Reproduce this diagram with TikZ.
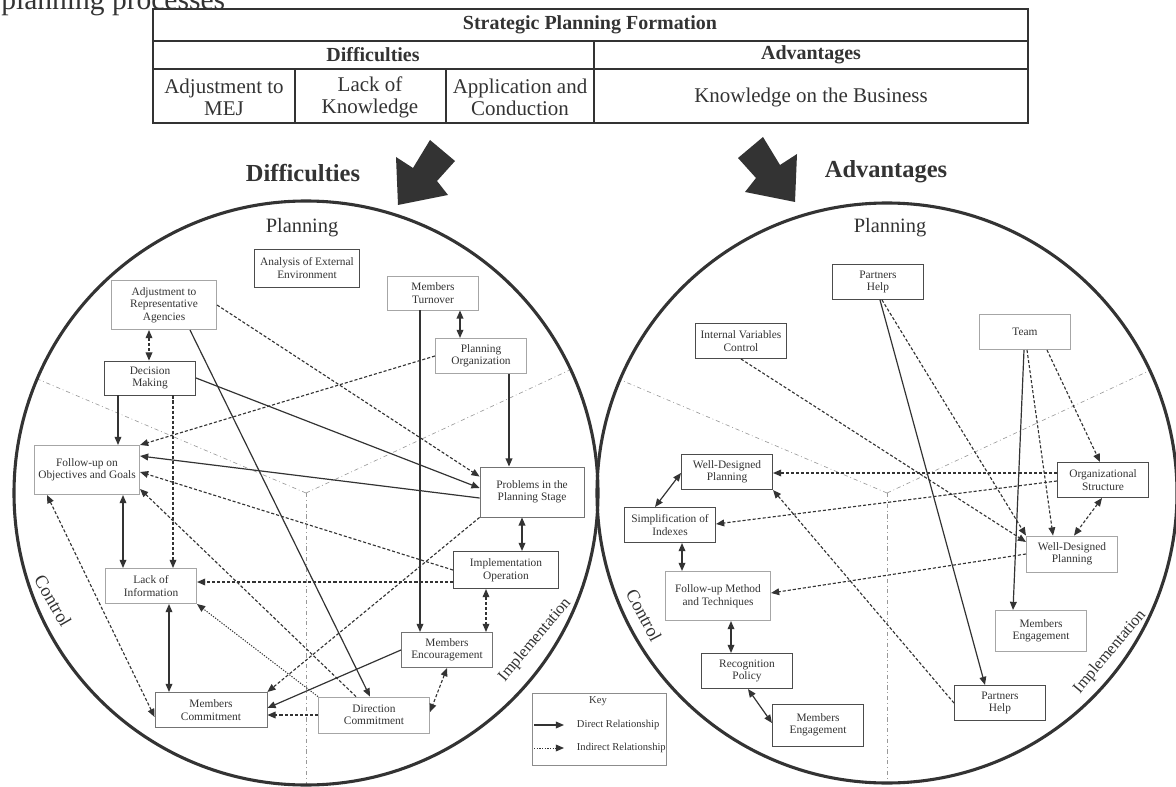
\documentclass[tikz,border=0pt]{standalone}
\usepackage{fontspec}
\setmainfont{Liberation Serif}
\usetikzlibrary{arrows.meta, calc}
\definecolor{ink}{HTML}{333333}

\begin{document}
\begin{tikzpicture}[
            x = 0.025cm, y = -0.025cm, % one unit = one pixel, y runs down
            > = {Triangle[length=5.8pt, width=4.8pt]}, % arrow head style
            direct/.style = {color = ink, line width = 0.85pt},
            indirect/.style = {color = ink, line width = 0.8pt, dash pattern = on 2.2pt off 1.4pt},
            faint/.style = {color = ink, line width = 0.7pt, dash pattern = on 0.9pt off 1pt},
            spoke/.style = {draw = black!40, line width = 0.45pt, dash pattern = on 3pt off 2pt on 0.6pt off 2pt},
            lab/.style = {text = ink, font = \fontsize{14.5}{16}\selectfont},
            side/.style = {text = ink, font = \fontsize{13}{15}\selectfont},
            head/.style = {text = ink, font = \fontsize{17.4}{20}\selectfont\bfseries},
            tcell/.style = {text = ink, align = center, font = \fontsize{14.9}{15.6}\selectfont},
            tbold/.style = {text = ink, font = \fontsize{14.2}{16}\selectfont\bfseries},
            keytext/.style = {text = ink, font = \fontsize{7.5}{9}\selectfont}
        ]

        \tikzstyle{box}=[
            draw = black!70,
            fill = white,
            line width = 0.6pt,
            align = center,
            inner sep = 1pt,
            text = ink,
            minimum width = 2.28cm,
            minimum height = 0.88cm,
            font = \fontsize{8.1}{8.9}\selectfont
        ]
        \tikzstyle{pbox}=[box, draw = black!35]

        \useasboundingbox (0,0) rectangle (1176,787);

        % caption line cut by the page
        \node[anchor = base west, inner sep = 0pt, text = ink, font = \fontsize{21}{24}\selectfont] (cap) at (1,10) {planning processes};

        % table
        \draw[ink, line width = 1.8pt] (153,9) rectangle (1028,123);
        \draw[ink, line width = 1pt] (153,41) -- (1028,41);
        \draw[ink, line width = 1pt] (153,69) -- (1028,69);
        \draw[ink, line width = 1pt] (594,41) -- (594,123);
        \draw[ink, line width = 1pt] (295,69) -- (295,123);
        \draw[ink, line width = 1pt] (446,69) -- (446,123);
        \node[tbold] (tt) at (590,25) {Strategic Planning Formation};
        \node[tbold] (td) at (373,55) {Difficulties};
        \node[tbold] (ta) at (811,55) {Advantages};
        \node[tcell] (c1) at (224,97) {Adjustment to\\MEJ};
        \node[tcell] (c2) at (370,97) {Lack of\\Knowledge};
        \node[tcell] (c3) at (520,97) {Application and\\Conduction};
        \node[tcell] (c4) at (811,97) {Knowledge on the Business};

        % big arrows and headings
        \fill[ink] (398,205) -- (396,157) -- (413,168) -- (430,140) -- (455,161) -- (437,181) -- (448,195) -- cycle;
        \fill[ink] (795,202) -- (797,154) -- (780,165) -- (763,137) -- (738,158) -- (756,178) -- (745,192) -- cycle;
        \node[head] (hd) at (303,173) {Difficulties};
        \node[head] (ha) at (886,172) {Advantages};

        % circles and their three sectors
        \coordinate (lc) at (306,493);
        \coordinate (rc) at (887,493);
        \draw[spoke] (lc) -- ++(-157:292);
        \draw[spoke] (lc) -- ++(-25:290);
        \draw[spoke] (lc) -- ++(90:292);
        \draw[spoke] (rc) -- ++(-157:290);
        \draw[spoke] (rc) -- ++(-25:290);
        \draw[spoke] (rc) -- ++(90:290);
        \draw[ink, line width = 2.2pt] (lc) circle[radius = 292];
        \draw[ink, line width = 2.2pt] (rc) circle[radius = 290];

        \node[lab] (pl1) at (302,228) {Planning};
        \node[lab] (pl2) at (890,228) {Planning};
        \node[side, rotate = -60] (co1) at (53,601) {Control};
        \node[side, rotate = -62] (co2) at (644,615) {Control};
        \node[side, rotate = 50, font = \fontsize{11.6}{13}\selectfont] (im1) at (535,640) {Implementation};
        \node[side, rotate = 50, font = \fontsize{11.6}{13}\selectfont] (im2) at (1110,652) {Implementation};

        % difficulties
        \node[box, minimum width = 2.63cm, minimum height = 0.95cm] (ana) at (307,268) {Analysis of External\\Environment};
        \node[pbox, minimum width = 2.63cm, minimum height = 1.23cm] (adj) at (164,305) {Adjustment to\\Representative\\Agencies};
        \node[box, minimum height = 0.85cm] (dec) at (150,378) {Decision\\Making};
        \node[pbox, minimum width = 2.63cm, minimum height = 1.23cm] (fol) at (87,470) {Follow-up on\\Objectives and Goals};
        \node[pbox, minimum height = 0.85cm] (tur) at (433,293) {Members\\Turnover};
        \node[pbox] (porg) at (481,356) {Planning\\Organization};
        \node[box, draw = black!55, minimum width = 2.6cm, minimum height = 1.25cm] (prob) at (532,492) {Problems in the\\Planning Stage};
        \node[box, minimum width = 2.63cm, minimum height = 0.93cm] (impl) at (506,570) {Implementation\\Operation};
        \node[box, draw = black!55] (enc) at (447,650) {Members\\Encouragement};
        \node[pbox, minimum width = 2.78cm, minimum height = 0.9cm] (dir) at (374,715) {Direction\\Commitment};
        \node[box, draw = black!55, minimum width = 2.8cm] (com) at (211,710) {Members\\Commitment};
        \node[pbox] (lack) at (151,586) {Lack of\\Information};

        \path[indirect, <->] ($(adj.south)+(-15,0)$) edge ($(dec.north)+(-1,0)$);
        \path[indirect, ->] (adj.east) edge ($(prob.north west)+(0,10)$);
        \path[direct, ->] ($(adj.south)+(26,0)$) edge ($(dir.north)+(-4,0)$);
        \path[direct, ->] ($(dec.south)+(-32,0)$) edge ($(fol.north)+(31,0)$);
        \path[indirect, ->] ($(dec.south)+(23,0)$) edge ($(lack.north)+(22,0)$);
        \path[direct, ->] (dec.east) edge ($(prob.west)+(0,-4)$);
        \path[indirect, ->] (porg.west) edge (fol.north east);
        \path[direct, <->] ($(tur.south)+(27,0)$) edge ($(porg.north)+(-21,0)$);
        \path[direct, ->] ($(tur.south)+(-13,0)$) edge ($(enc.north)+(-27,0)$);
        \path[direct, ->] ($(porg.south)+(28,0)$) edge ($(prob.north)+(-23,0)$);
        \path[direct, ->] ($(prob.west)+(0,6)$) edge ($(fol.east)+(0,-14)$);
        \path[direct, <->] ($(prob.south)+(-10,0)$) edge ($(impl.north)+(16,0)$);
        \path[indirect, ->] (prob.south west) edge (com.north east);
        \path[indirect, ->] (impl.west) edge ($(fol.east)+(0,2)$);
        \path[indirect, ->] ($(impl.west)+(0,12)$) edge ($(lack.east)+(0,-4)$);
        \path[indirect, <->] ($(impl.south)+(-20,0)$) edge ($(enc.north)+(39,0)$);
        \path[direct, ->] (enc.west) edge ($(com.east)+(0,-2)$);
        \path[indirect, <->] (enc.south) edge ($(dir.east)+(0,-3)$);
        \path[indirect, ->] (dir.west) edge ($(com.east)+(0,5)$);
        \path[faint, ->] (dir.north west) edge (lack.south east);
        \path[indirect, ->] ($(dir.north)+(-18,0)$) edge ($(fol.east)+(0,19)$);
        \path[direct, <->] ($(fol.south)+(36,0)$) edge ($(lack.north)+(-28,0)$);
        \path[indirect, <->] ($(fol.south)+(-40,0)$) edge ($(com.west)+(0,7)$);
        \path[direct, <->] ($(lack.south)+(18,0)$) edge ($(com.north)+(-42,0)$);

        % key
        \node[draw = black!45, line width = 0.6pt, minimum width = 3.35cm, minimum height = 1.8cm] (key) at (599,729) {};
        \node[keytext] (kt) at (598,701) {Key};
        \node[keytext, anchor = west] (kd) at (572,725) {Direct Relationship};
        \node[keytext, anchor = west] (ki) at (572,748) {Indirect Relationship};
        \coordinate (kd0) at (534,725);
        \coordinate (kd1) at (564,725);
        \coordinate (ki0) at (534,748);
        \coordinate (ki1) at (564,748);
        \path[direct, ->] (kd0) edge (kd1);
        \path[faint, ->] (ki0) edge (ki1);

        % advantages
        \node[box] (ph1) at (878,282) {Partners\\Help};
        \node[box] (ivc) at (741,341) {Internal Variables\\Control};
        \node[pbox] (team) at (1025,332) {Team};
        \node[box] (ostr) at (1103,480) {Organizational\\Structure};
        \node[pbox, minimum height = 0.9cm] (wdp2) at (1072,554) {Well-Designed\\Planning};
        \node[pbox, minimum height = 1.03cm] (me2) at (1041,631) {Members\\Engagement};
        \node[box] (ph2) at (1000,703) {Partners\\Help};
        \node[box] (wdp1) at (727,472) {Well-Designed\\Planning};
        \node[box] (simp) at (670,525) {Simplification of\\Indexes};
        \node[pbox, minimum width = 2.63cm, minimum height = 1.23cm] (fmt) at (718,596) {Follow-up Method\\and Techniques};
        \node[box] (rec) at (747,671) {Recognition\\Policy};
        \node[box, minimum height = 1.05cm] (me1) at (818,725) {Members\\Engagement};

        \path[direct, ->] ($(ph1.south)+(2,0)$) edge ($(ph2.north)+(-15,0)$);
        \path[indirect, ->] ($(ph1.south)+(4,0)$) edge (wdp2.north west);
        \path[indirect, ->] (ivc.south) edge ($(wdp2.west)+(0,-12)$);
        \path[direct, ->] ($(team.south)+(-1,0)$) edge ($(me2.north)+(-28,0)$);
        \path[indirect, ->] ($(team.south)+(2,0)$) edge ($(wdp2.north)+(-19,0)$);
        \path[indirect, ->] ($(team.south)+(22,0)$) edge ($(ostr.north)+(-3,0)$);
        \path[indirect, <->] ($(ostr.south)+(-1,0)$) edge ($(wdp2.north)+(2,0)$);
        \path[indirect, ->] ($(ostr.west)+(0,-7)$) edge ($(wdp1.east)+(0,1)$);
        \path[indirect, ->] ($(ostr.west)+(0,1)$) edge ($(simp.east)+(0,-1)$);
        \path[indirect, ->] (wdp2.west) edge ($(fmt.east)+(0,-3)$);
        \path[indirect, ->] (ph2.west) edge (wdp1.south east);
        \path[direct, <->] ($(wdp1.west)+(0,1)$) edge ($(simp.north)+(-15,0)$);
        \path[direct, <->] ($(simp.south)+(12,0)$) edge ($(fmt.north)+(-36,0)$);
        \path[direct, <->] ($(fmt.south)+(13,0)$) edge ($(rec.north)+(-16,0)$);
        \path[direct, <->] ($(rec.south)+(1,0)$) edge ($(me1.west)+(0,-2)$);

    \end{tikzpicture}
\end{document}
